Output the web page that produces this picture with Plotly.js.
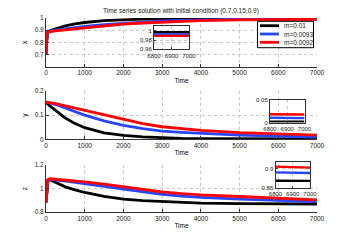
<!DOCTYPE html>
<html><head><meta charset="utf-8">
<script src="https://cdn.plot.ly/plotly-3.0.1.min.js"></script>
<style>html,body{margin:0;padding:0;background:#fff}#g{width:350px;height:244px}</style>
</head><body><div id="g"></div>
<script>
const time = [0, 20, 50, 100, 250, 500, 750, 1000, 1500, 2000, 2500, 3000, 3500, 4000, 5000, 6000, 6800, 7000];
const labels = ['m=0.01', 'm=0.0093', 'm=0.0092'];
const xBlack = [0.7, 0.82, 0.885, 0.895, 0.91, 0.935, 0.952, 0.963, 0.978, 0.986, 0.991, 0.994, 0.996, 0.997, 0.997, 0.997, 0.997, 0.997];
const xBlue  = [0.7, 0.82, 0.885, 0.893, 0.9, 0.912, 0.923, 0.932, 0.946, 0.957, 0.968, 0.976, 0.981, 0.985, 0.989, 0.991, 0.992, 0.992];
const xRed   = [0.7, 0.82, 0.883, 0.889, 0.895, 0.903, 0.913, 0.922, 0.937, 0.949, 0.959, 0.966, 0.973, 0.978, 0.984, 0.987, 0.989, 0.989];
const yBlack = [0.153, 0.149, 0.145, 0.138, 0.12, 0.088, 0.065, 0.048, 0.027, 0.016, 0.01, 0.006, 0.004, 0.003, 0.002, 0.002, 0.002, 0.002];
const yBlue  = [0.153, 0.153, 0.152, 0.151, 0.144, 0.129, 0.114, 0.1, 0.076, 0.058, 0.044, 0.034, 0.029, 0.024, 0.017, 0.013, 0.01, 0.0095];
const yRed   = [0.153, 0.153, 0.153, 0.152, 0.148, 0.139, 0.13, 0.121, 0.1, 0.082, 0.065, 0.052, 0.044, 0.037, 0.028, 0.022, 0.018, 0.0175];
const zBlack = [0.88, 1.0, 1.07, 1.075, 1.05, 1.014, 0.988, 0.966, 0.932, 0.91, 0.896, 0.887, 0.88, 0.875, 0.871, 0.869, 0.868, 0.868];
const zBlue  = [0.88, 1.0, 1.07, 1.077, 1.073, 1.062, 1.052, 1.042, 1.018, 0.994, 0.972, 0.951, 0.935, 0.924, 0.91, 0.898, 0.891, 0.889];
const zRed   = [0.88, 1.0, 1.075, 1.083, 1.079, 1.07, 1.063, 1.056, 1.037, 1.014, 0.99, 0.972, 0.957, 0.946, 0.932, 0.918, 0.906, 0.9035];
const xTicks = [0, 1000, 2000, 3000, 4000, 5000, 6000, 7000];
const insetTicks = [6800, 6900, 7000];

const colors = ['#000000', 'rgb(40,70,255)', '#ff0000'];
const series = [[xBlack, yBlack, zBlack], [xBlue, yBlue, zBlue], [xRed, yRed, zRed]];
const traces = [];
const axPairs = [['x','y'],['x2','y2'],['x3','y3']];
const inPairs = [['x4','y4'],['x5','y5'],['x6','y6']];
series.forEach((s, i) => {
  for (let k = 0; k < 3; k++) {
    traces.push({x: time, y: s[k], xaxis: axPairs[k][0], yaxis: axPairs[k][1], mode: 'lines',
      line: {color: colors[i], width: 2.8}, name: labels[i], showlegend: false});
    traces.push({x: time, y: s[k], xaxis: inPairs[k][0], yaxis: inPairs[k][1], mode: 'lines',
      line: {color: colors[i], width: 2.4}, showlegend: false});
  }
});

// plot area in pixels: left 46, right 317, top 18, bottom 212
const px = v => (v - 46) / 271;
const py = v => (212 - v) / 194;

const F = {family: 'Liberation Sans, Arial, sans-serif', size: 6.5, color: '#222222'};
const FT = {family: 'Liberation Sans, Arial, sans-serif', size: 6.5, color: '#000000'};
const FI = {family: 'Liberation Sans, Arial, sans-serif', size: 6, color: '#222222'};
const shapes = [{type: 'rect', xref: 'paper', yref: 'paper', x0: px(257.5), x1: px(313.5), y0: py(47.7), y1: py(21.3),
  line: {color: '#000', width: 1}, fillcolor: '#fff', layer: 'above'}];
const annotations = [];
const legY = [25.7, 34, 42.3];
labels.forEach((lab, i) => {
  shapes.push({type: 'line', xref: 'paper', yref: 'paper', x0: px(260), x1: px(279), y0: py(legY[i]), y1: py(legY[i]),
    line: {color: colors[i], width: 2.8}, layer: 'above'});
  annotations.push({xref: 'paper', yref: 'paper', x: px(281.5), y: py(legY[i]), xanchor: 'left', yanchor: 'middle',
    text: lab, showarrow: false, font: F});
});

function mainX(anchor) {
  return {domain: [0, 1], anchor: anchor, range: [0, 7000], tickvals: xTicks, showline: true, linecolor: '#333', linewidth: 1,
    ticks: 'inside', ticklen: 3, tickcolor: '#333', showgrid: true, gridcolor: '#c8c8c8', griddash: 'dot', gridwidth: 1,
    zeroline: false, tickfont: F, title: {text: 'Time', font: FT, standoff: 2}};
}
function mainY(anchor, dom, range, ticks, title) {
  return {domain: dom, anchor: anchor, range: range, tickvals: ticks, showline: true, linecolor: '#333', linewidth: 1,
    ticks: 'inside', ticklen: 3, tickcolor: '#333', showgrid: true, gridcolor: '#c8c8c8', griddash: 'dot', gridwidth: 1,
    zeroline: false, tickfont: F, title: {text: title, font: FT, standoff: 6}};
}
function inX(anchor, dom) {
  return {domain: dom, anchor: anchor, range: [6800, 7000], tickvals: insetTicks, showline: true, mirror: true, linecolor: '#333',
    linewidth: 1, ticks: 'inside', ticklen: 2, showgrid: true, gridcolor: '#c8c8c8', griddash: 'dot', zeroline: false,
    tickfont: FI, tickangle: 0, automargin: false};
}
function inY(anchor, dom, range, ticks) {
  return {domain: dom, anchor: anchor, range: range, tickvals: ticks, showline: true, mirror: true, linecolor: '#333',
    linewidth: 1, ticks: 'inside', ticklen: 2, showgrid: true, gridcolor: '#c8c8c8', griddash: 'dot', zeroline: false,
    tickfont: FI, automargin: false};
}

const layout = {
  width: 350, height: 244, margin: {l: 46, r: 33, t: 18, b: 32},
  paper_bgcolor: '#fff', plot_bgcolor: 'rgba(0,0,0,0)',
  font: {family: 'Liberation Sans, Arial, sans-serif', color: '#222'},
  title: {text: 'Time series solution with initial condition (0.7,0.15,0.9)', font: F, x: 0.517, xanchor: 'center', y: 0.955, yanchor: 'middle'},
  showlegend: false,
  shapes: shapes, annotations: annotations,
  xaxis: mainX('y'), yaxis: mainY('x', [0.749, 1], [0.6, 1], [0.7, 0.8, 0.9, 1], 'x'),
  xaxis2: mainX('y2'), yaxis2: mainY('x2', [0.3747, 0.6237], [0, 0.2], [0, 0.1, 0.2], 'y'),
  xaxis3: mainX('y3'), yaxis3: mainY('x3', [0, 0.2423], [0.8, 1.2], [0.8, 1, 1.2], 'z'),
  xaxis4: inX('y4', [px(154), px(189)]), yaxis4: inY('x4', [py(49.3), py(25.7)], [0.96, 1.011], [0.96, 0.98, 1]),
  xaxis5: inX('y5', [px(270), px(304.5)]), yaxis5: inY('x5', [py(122.5), py(99.5)], [0, 0.05], [0, 0.05]),
  xaxis6: inX('y6', [px(275.5), px(310)]), yaxis6: inY('x6', [py(187.5), py(162.3)], [0.85, 0.918], [0.85, 0.9])
};
Plotly.newPlot('g', traces, layout, {displayModeBar: false, staticPlot: true});
</script></body></html>
